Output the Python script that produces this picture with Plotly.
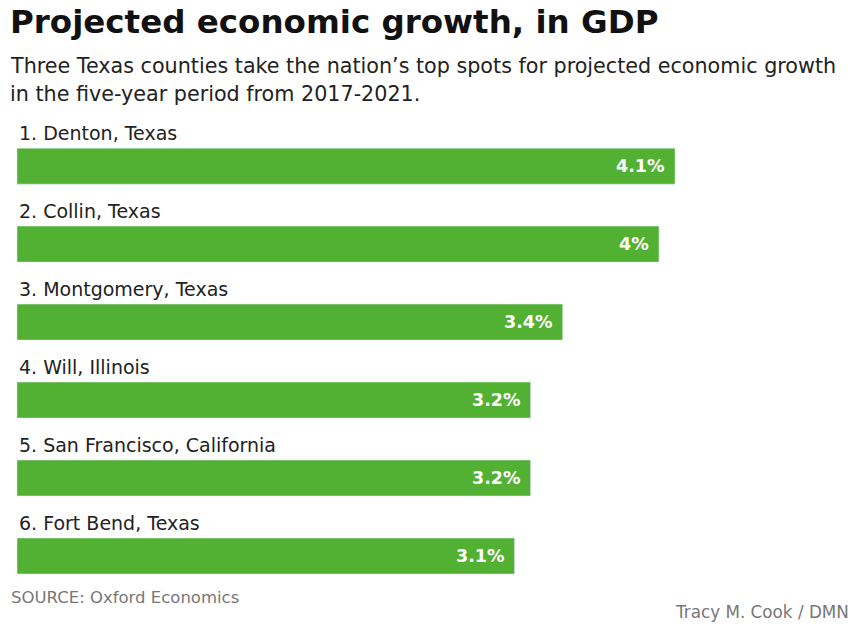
import plotly.graph_objects as go

counties = ["1. Denton, Texas", "2. Collin, Texas", "3. Montgomery, Texas",
            "4. Will, Illinois", "5. San Francisco, California", "6. Fort Bend, Texas"]
growth = [4.1, 4.0, 3.4, 3.2, 3.2, 3.1]

BAR = "#52b033"
FONT = "DejaVu Sans"

ypos = list(range(len(counties)))
fig = go.Figure(go.Bar(
    x=growth, y=ypos, orientation="h", marker_color=BAR, width=0.4615,
    hoverinfo="skip",
))

ann = []
for i, (c, v) in enumerate(zip(counties, growth)):
    ann.append(dict(x=0, y=i - 0.423, xref="x", yref="y", text=c, showarrow=False,
                    xanchor="left", yanchor="middle", font=dict(family=FONT, size=19, color="#222")))
    ann.append(dict(x=v, y=i, xref="x", yref="y", text=f"<b>{v:g}%</b>", showarrow=False,
                    xanchor="right", yanchor="middle", xshift=-8,
                    font=dict(family=FONT, size=17.5, color="white")))

H = 485.0
def py(pix):
    return (595 - pix) / H

def px(pix):
    return (pix - 17) / 843.0

ann += [
    dict(x=px(8), y=py(22), xref="paper", yref="paper", xanchor="left", yanchor="middle",
         text="<b>Projected economic growth, in GDP</b>", showarrow=False,
         font=dict(family=FONT, size=32.5, color="#111")),
    dict(x=px(8), y=py(66), xref="paper", yref="paper", xanchor="left", yanchor="middle",
         text="Three Texas counties take the nation’s top spots for projected economic growth",
         showarrow=False, font=dict(family=FONT, size=20.7, color="#222")),
    dict(x=px(8), y=py(94), xref="paper", yref="paper", xanchor="left", yanchor="middle",
         text="in the five-year period from 2017-2021.",
         showarrow=False, font=dict(family=FONT, size=20.7, color="#222")),
    dict(x=px(9), y=py(597), xref="paper", yref="paper", xanchor="left", yanchor="middle",
         text="SOURCE: Oxford Economics", showarrow=False,
         font=dict(family=FONT, size=16.5, color="#777")),
    dict(x=px(851), y=py(612), xref="paper", yref="paper", xanchor="right", yanchor="middle",
         text="Tracy M. Cook / DMN", showarrow=False,
         font=dict(family=FONT, size=16.8, color="#777")),
]

fig.update_layout(
    width=860, height=634, margin=dict(l=17, r=0, t=110, b=39),
    paper_bgcolor="white", plot_bgcolor="white", showlegend=False,
    xaxis=dict(range=[0, 843 / 160.5], visible=False, fixedrange=True),
    yaxis=dict(range=[5.5, -0.72], visible=False, fixedrange=True),
    annotations=ann,
)

fig.write_html("out.html")
